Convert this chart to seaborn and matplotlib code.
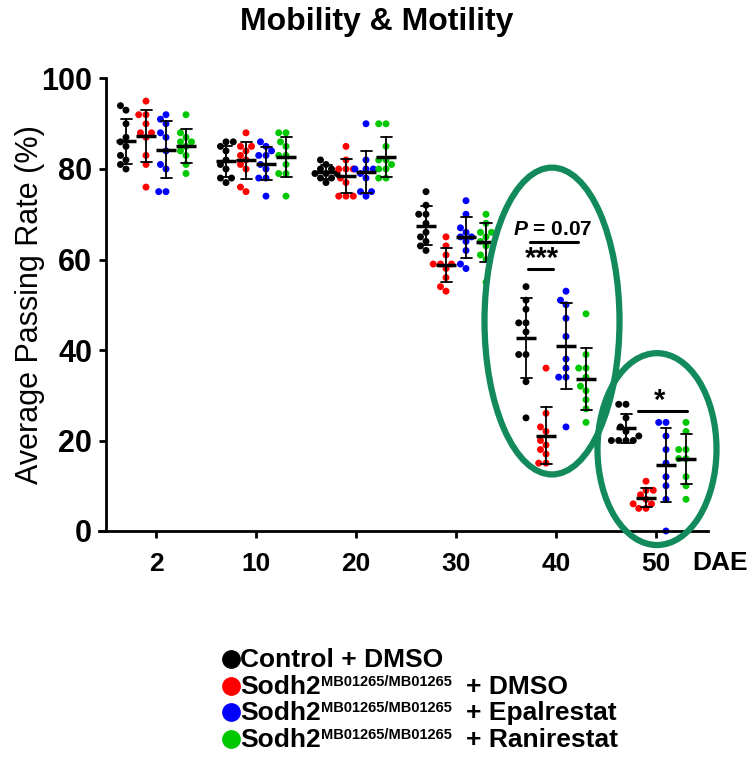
import numpy as np
import pandas as pd
import matplotlib
matplotlib.use("Agg")
import matplotlib.pyplot as plt
from matplotlib.lines import Line2D
from matplotlib.patches import Ellipse
import seaborn as sns

DAYS = [2, 10, 20, 30, 40, 50]
GROUPS = ["Control + DMSO", "Sodh2 + DMSO", "Sodh2 + Epalrestat", "Sodh2 + Ranirestat"]
COLORS = ["#000000", "#ff0000", "#0000ff", "#00c800"]
# legend text: (main, superscript, suffix)
LEGEND_LABELS = [
    ("Control + DMSO", "", ""),
    ("Sodh2", "MB01265/MB01265", "+ DMSO"),
    ("Sodh2", "MB01265/MB01265", "+ Epalrestat"),
    ("Sodh2", "MB01265/MB01265", "+ Ranirestat"),
]

# passing rate (%) per fly vial
control_dmso = {
    2: [94, 93, 90, 87, 86, 85, 83, 82, 81, 80],
    10: [86, 86, 85, 84, 82, 81, 80, 78, 78, 77],
    20: [82, 81, 80, 80, 79, 79, 79, 78, 78, 77],
    30: [75, 72, 70, 70, 68, 66, 65, 64, 63, 62],
    40: [54, 51, 49, 46, 46, 44, 39, 39, 33, 25],
    50: [28, 28, 25, 23, 22, 21, 20, 20, 20, 20],
}
sodh2_dmso = {
    2: [95, 92, 92, 90, 88, 88, 87, 83, 81, 76],
    10: [88, 85, 85, 84, 83, 82, 81, 80, 76, 75],
    20: [85, 82, 80, 80, 80, 78, 77, 74, 74, 74],
    30: [65, 63, 61, 59, 59, 59, 58, 56, 54, 53],
    40: [36, 26, 23, 22, 20, 19, 18, 17, 15, 15],
    50: [11, 9, 9, 8, 7, 6, 6, 5, 5],
}
sodh2_epalrestat = {
    2: [92, 91, 90, 88, 87, 84, 81, 80, 75, 75],
    10: [86, 85, 84, 83, 83, 81, 80, 78, 78, 74],
    20: [90, 82, 80, 80, 80, 79, 78, 75, 75, 74],
    30: [73, 70, 67, 66, 65, 65, 64, 62, 59, 58],
    40: [53, 51, 50, 47, 43, 38, 36, 34, 34, 23],
    50: [24, 24, 21, 18, 15, 12, 10, 7, 0],
}
sodh2_ranirestat = {
    2: [92, 88, 87, 86, 86, 85, 84, 83, 81, 79],
    10: [88, 88, 86, 85, 83, 83, 81, 79, 79, 74],
    20: [90, 90, 85, 82, 82, 81, 80, 80, 78, 78],
    30: [70, 68, 66, 66, 65, 64, 63, 61, 60, 55],
    40: [48, 39, 36, 36, 34, 32, 31, 29, 27, 24],
    50: [24, 22, 18, 18, 16, 16, 12, 10, 7],
}

W, H = 753, 760


def build_frame():
    rows = []
    for group, values in zip(GROUPS, [control_dmso, sodh2_dmso, sodh2_epalrestat, sodh2_ranirestat]):
        for day in DAYS:
            for v in values[day]:
                rows.append({"DAE": day, "group": group, "rate": v})
    return pd.DataFrame(rows)


def draw_legend(fig):
    # hand-built legend so the superscript can be smaller than mathtext allows
    renderer = fig.canvas.get_renderer()
    for i, (color, (main, sup, suffix)) in enumerate(zip(COLORS, LEGEND_LABELS)):
        base = 667 + i * 26.7
        fig.add_artist(Line2D([231 / W], [1 - (base - 8) / H], marker="o", ls="",
                              color=color, markersize=12.5, transform=fig.transFigure))
        t = fig.text(240 / W, 1 - base / H, main, ha="left", va="baseline",
                     fontsize=19, fontweight="bold")
        if not sup:
            continue
        x = t.get_window_extent(renderer).x1
        s = fig.text(x / W, 1 - (base - 8) / H, sup, ha="left", va="baseline",
                     fontsize=10.5, fontweight="bold")
        x = s.get_window_extent(renderer).x1 + 14
        fig.text(x / W, 1 - base / H, suffix, ha="left", va="baseline",
                 fontsize=19, fontweight="bold")


def plot_mobility():
    df = build_frame()

    sns.set_theme(style="ticks")
    plt.rcParams["font.family"] = ["Liberation Sans", "DejaVu Sans"]
    plt.rcParams["mathtext.default"] = "regular"
    plt.rcParams["mathtext.fontset"] = "custom"
    plt.rcParams["mathtext.it"] = "Liberation Sans:italic:bold"
    for key in ["text.color", "axes.labelcolor", "xtick.color", "ytick.color", "axes.edgecolor"]:
        plt.rcParams[key] = "black"

    fig = plt.figure(figsize=(W / 100, H / 100), dpi=100)
    ax = fig.add_axes([99 / W, 1 - 531 / H, (708 - 99) / W, (531 - 78.5) / H])

    sns.swarmplot(data=df, x="DAE", y="rate", hue="group", hue_order=GROUPS,
                  palette=COLORS, dodge=True, size=5, ax=ax, legend=False,
                  clip_on=False, zorder=2, warn_thresh=1)

    # mean +/- SD
    sns.pointplot(data=df, x="DAE", y="rate", hue="group", hue_order=GROUPS,
                  palette=["black"] * 4, dodge=0.6, errorbar="sd", capsize=0.11,
                  markers="_", markersize=14, markeredgewidth=2.5, linestyle="none",
                  err_kws={"linewidth": 1.3}, ax=ax, legend=False, zorder=3)

    ax.set_xlim(-0.57, 5.52)
    ax.set_ylim(0, 100)
    ax.set_yticks(range(0, 101, 20))
    ax.set_xlabel("")
    ax.set_ylabel("")
    sns.despine(ax=ax)
    ax.spines["left"].set_position(("data", -0.5))
    ax.spines["left"].set_bounds(0, 100)
    for s in ["left", "bottom"]:
        ax.spines[s].set_linewidth(2)
    ax.tick_params(axis="both", width=2, length=5)
    ax.tick_params(axis="y", labelsize=22, pad=5)
    ax.tick_params(axis="x", labelsize=19, pad=10)
    for lab in ax.get_xticklabels() + ax.get_yticklabels():
        lab.set_fontweight("bold")

    # highlighted late time points
    ring = "#138a5b"
    ax.add_patch(Ellipse((3.96, 46.4), 1.35, 67.8, fill=False, ec=ring, lw=4.5,
                         clip_on=False, zorder=5))
    ax.add_patch(Ellipse((5.01, 18.1), 1.19, 42.4, fill=False, ec=ring, lw=4.5,
                         clip_on=False, zorder=5))

    # significance marks
    ax.plot([3.74, 4.22], [63.9, 63.9], color="black", lw=2.2, zorder=4)
    ax.text(3.97, 64.6, r"$\mathit{P}$ = 0.07", ha="center", va="bottom",
            fontsize=15, fontweight="bold")
    ax.plot([3.72, 3.97], [57.9, 57.9], color="black", lw=2.2, zorder=4)
    ax.text(3.86, 57.0, "***", ha="center", va="bottom", fontsize=21, fontweight="bold")
    ax.plot([4.82, 5.31], [26.5, 26.5], color="black", lw=2.2, zorder=4)
    ax.text(5.04, 25.6, "*", ha="center", va="bottom", fontsize=21, fontweight="bold")

    fig.text(0.5, 1 - 22 / H, "Mobility & Motility", ha="center", va="center",
             fontsize=23, fontweight="bold")
    fig.text(30 / W, 1 - 305 / H, "Average Passing Rate (%)", ha="center",
             va="center", rotation=90, fontsize=22)
    fig.text(720 / W, 1 - 563 / H, "DAE", ha="center", va="center",
             fontsize=19, fontweight="bold")

    draw_legend(fig)

    fig.savefig("out.png", dpi=100)
    plt.close(fig)


if __name__ == "__main__":
    plot_mobility()
